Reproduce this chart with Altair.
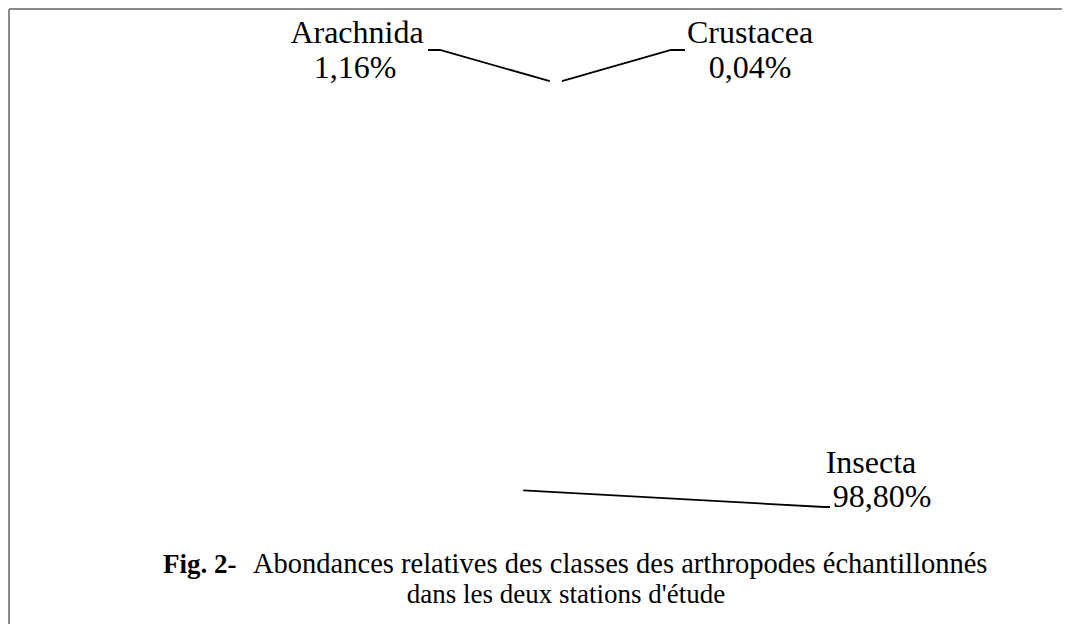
import math
import altair as alt
import pandas as pd

# ---- data ----
classes = ["Arachnida", "Crustacea", "Insecta"]
percent = [1.16, 0.04, 98.80]
pct_labels = ["1,16%", "0,04%", "98,80%"]
caption_bold = "Fig. 2-"
caption_line1 = "Abondances relatives des classes des arthropodes échantillonnés"
caption_line2 = "dans les deux stations d'étude"

# ---- layout (pixels inside the plot area) ----
W, H = 1053, 615
CX, CY, R = 547, 278, 206
START_DEG = -4.3
anchor_nudge = [0.5, 1.7, 11.3]          # where the leader line meets the pie
elbow = [(431, 41), (662, 41), (815, 498)]
leader_end = [(419, 41), (676, 41), (821, 498)]
name_pos = [(348, 34), (741, 34), (862, 464)]
pct_pos = [(346, 69), (741, 69), (873, 498)]
FONT = "Liberation Serif"

# pie slices
pie_df = pd.DataFrame({"cls": classes, "pct": percent, "idx": range(len(classes))})
start_rad = math.radians(START_DEG)

# leader lines: anchor computed from each slice's mid angle
total = sum(percent)
cum = 0.0
line_rows = []
text_rows = []
for i, (c, p) in enumerate(zip(classes, percent)):
    mid = START_DEG + 360.0 * (cum + p / 2) / total + anchor_nudge[i]
    cum += p
    a = math.radians(mid)
    ax, ay = CX + R * math.sin(a), CY - R * math.cos(a)
    for k, (x, y) in enumerate([(ax, ay), elbow[i], leader_end[i]]):
        line_rows.append({"cls": c, "k": k, "x": x, "y": y})
    text_rows.append({"t": c, "x": name_pos[i][0], "y": name_pos[i][1]})
    text_rows.append({"t": pct_labels[i], "x": pct_pos[i][0], "y": pct_pos[i][1]})

lines_df = pd.DataFrame(line_rows)
text_df = pd.DataFrame(text_rows)

xs = alt.Scale(domain=[0, W], range=[0, W])
ys = alt.Scale(domain=[0, H], reverse=True)

pie = alt.Chart(pie_df).mark_arc(radius=R, fill="white", stroke="white").encode(
    theta=alt.Theta("pct:Q", stack=True, scale=alt.Scale(range=[start_rad, start_rad + 2 * math.pi])),
    order=alt.Order("idx:Q"),
    x=alt.value(CX),
    y=alt.value(CY),
)

leaders = alt.Chart(lines_df).mark_line(color="black", strokeWidth=1.8).encode(
    x=alt.X("x:Q", scale=xs, axis=None),
    y=alt.Y("y:Q", scale=ys, axis=None),
    detail="cls:N",
    order="k:Q",
)

labels = alt.Chart(text_df).mark_text(
    font=FONT, fontSize=32, color="black", align="center", baseline="alphabetic"
).encode(
    x=alt.X("x:Q", scale=xs, axis=None),
    y=alt.Y("y:Q", scale=ys, axis=None),
    text="t:N",
)

cap_df = pd.DataFrame({
    "t": [caption_bold, caption_line1, caption_line2],
    "x": [154, 244, 557],
    "y": [564, 564, 594],
})
cap_bold = alt.Chart(cap_df.iloc[[0]]).mark_text(
    font=FONT, fontSize=27, fontWeight="bold", color="black", align="left", baseline="alphabetic"
).encode(x=alt.X("x:Q", scale=xs, axis=None), y=alt.Y("y:Q", scale=ys, axis=None), text="t:N")
cap_l1 = alt.Chart(cap_df.iloc[[1]]).mark_text(
    font=FONT, fontSize=28.5, color="black", align="left", baseline="alphabetic"
).encode(x=alt.X("x:Q", scale=xs, axis=None), y=alt.Y("y:Q", scale=ys, axis=None), text="t:N")
cap_l2 = alt.Chart(cap_df.iloc[[2]]).mark_text(
    font=FONT, fontSize=27, color="black", align="center", baseline="alphabetic"
).encode(x=alt.X("x:Q", scale=xs, axis=None), y=alt.Y("y:Q", scale=ys, axis=None), text="t:N")

border_df = pd.DataFrame({"side": ["left", "top"]})
left_border = alt.Chart(border_df.iloc[[0]]).mark_rule(color="#8a8a8a", strokeWidth=2).encode(
    x=alt.value(0), y=alt.value(0), y2=alt.value(H)
)
top_border = alt.Chart(border_df.iloc[[1]]).mark_rule(color="#8a8a8a", strokeWidth=2).encode(
    x=alt.value(0), x2=alt.value(W), y=alt.value(0)
)

chart = alt.layer(
    pie, leaders, labels, cap_bold, cap_l1, cap_l2, left_border, top_border
).properties(
    width=W, height=H,
    autosize=alt.AutoSizeParams(type="none"),
    padding={"left": 1, "top": 1, "right": 0, "bottom": 0},
).configure_view(stroke=None).configure(background="white")

chart.save("out.html", embed_options={"renderer": "svg", "actions": False})
